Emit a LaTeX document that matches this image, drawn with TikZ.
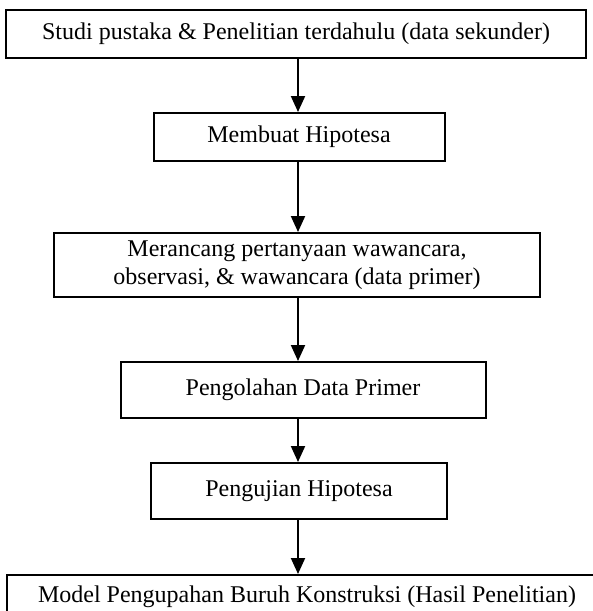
\documentclass[tikz,border=0pt]{standalone}
\usepackage{fontspec}
\setmainfont{Liberation Serif}
\usetikzlibrary{shapes,arrows.meta,positioning}

\begin{document}
\begin{tikzpicture}[x=1pt,y=-1pt]
			\tikzstyle{Step}	= [draw, line width=2pt, fill=white, inner sep=0pt, align=center, font=\fontsize{24}{28}\selectfont]
			\tikzstyle{Flow}	= [line width=2pt, -{Triangle[width=14pt,length=16pt]}]

			\useasboundingbox (0,0) rectangle (593,611);

			\coordinate (axis) at (298,0);

			\node (studi)   at (296,34)  [Step, minimum width=580pt, minimum height=48pt] {Studi pustaka \& Penelitian terdahulu (data sekunder)};
			\node (hipo)    at (299,137) [Step, minimum width=291pt, minimum height=48pt] {Membuat Hipotesa};
			\node (rancang) at (297,265) [Step, minimum width=486pt, minimum height=64pt] {Merancang pertanyaan wawancara,\\ observasi, \& wawancara (data primer)};
			\node (olah)    at (303,390) [Step, minimum width=365pt, minimum height=56pt] {Pengolahan Data Primer};
			\node (uji)     at (299,491) [Step, minimum width=296pt, minimum height=56pt] {Pengujian Hipotesa};
			\node (model)   at (307,574) [Step, anchor=north, minimum width=600pt, inner ysep=11pt] {Model Pengupahan Buruh Konstruksi (Hasil Penelitian)};

			\draw [Flow] (studi.south -| axis)   to (hipo.north -| axis);
			\draw [Flow] (hipo.south -| axis)    to (rancang.north -| axis);
			\draw [Flow] (rancang.south -| axis) to (olah.north -| axis);
			\draw [Flow] (olah.south -| axis)    to (uji.north -| axis);
			\draw [Flow] (uji.south -| axis)     to (model.north -| axis);
		\end{tikzpicture}
\end{document}
